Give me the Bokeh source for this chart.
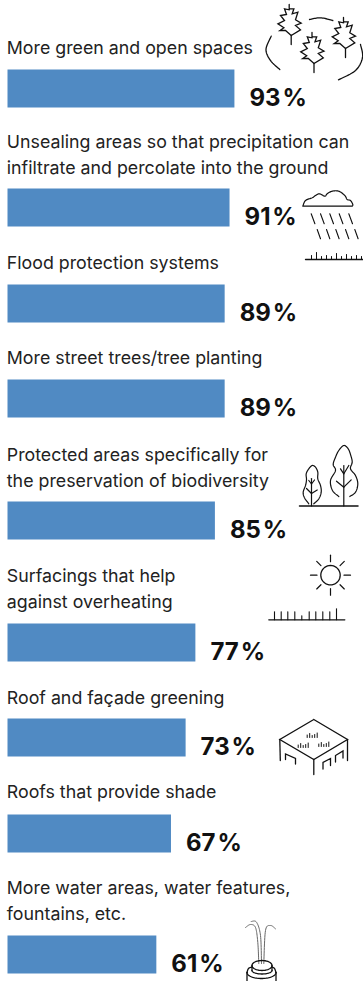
import numpy as np
from bokeh.core.properties import value
from bokeh.embed import file_html
from bokeh.models import Range1d
from bokeh.plotting import figure
from bokeh.resources import INLINE

# Survey results
categories = [
    ["More green and open spaces"],
    ["Unsealing areas so that precipitation can", "infiltrate and percolate into the ground"],
    ["Flood protection systems"],
    ["More street trees/tree planting"],
    ["Protected areas specifically for", "the preservation of biodiversity"],
    ["Surfacings that help", "against overheating"],
    ["Roof and façade greening"],
    ["Roofs that provide shade"],
    ["More water areas, water features,", "fountains, etc."],
]
shares = [93, 91, 89, 89, 85, 77, 73, 67, 61]

# Layout, in page pixels
W, H = 363, 981
LEFT = 7
PX_PER_POINT = 2.44
BAR_BOTTOMS = [107, 226, 322, 417, 539, 661, 756, 852, 973]
BAR_HEIGHT = 38
FIRST_BASELINES = [54, 148, 269, 364, 461, 582, 704, 798, 894]
LINE_STEP = 26
BAR_COLOR = "#508ac3"
TEXT_COLOR = "#222222"
INK = "#111111"
FONT = "Inter"

p = figure(
    width=W, height=H, output_backend="svg", toolbar_location=None,
    x_range=Range1d(-LEFT / PX_PER_POINT, (W - LEFT) / PX_PER_POINT),
    y_range=Range1d(H, 0), min_border=0, outline_line_color=None,
    background_fill_color="white", border_fill_color="white",
)
p.axis.visible = False
p.grid.visible = False
p.extra_x_ranges["px"] = Range1d(0, W)

# Bars
bar_bottom = np.array(BAR_BOTTOMS, dtype=float)
p.quad(left=0, right=shares, bottom=bar_bottom, top=bar_bottom - BAR_HEIGHT,
       fill_color=BAR_COLOR, line_color=None)

# Value labels
p.text(x=shares, y=bar_bottom, text=[f"{s}\u200a%" for s in shares], x_offset=15, y_offset=-10,
       text_font=value(FONT), text_font_style="bold", text_font_size="24px",
       text_baseline="alphabetic", text_color=INK)

# Category labels
xs, ys, labels = [], [], []
for lines, base in zip(categories, FIRST_BASELINES):
    for i, line in enumerate(lines):
        xs.append(LEFT - 0.7)
        ys.append(base + i * LINE_STEP)
        labels.append(line)
p.text(x=xs, y=ys, text=labels, x_range_name="px", y_offset=-7, text_font=value(FONT),
       text_font_size="17.8px", text_baseline="alphabetic", text_color=TEXT_COLOR)


def stroke(paths, width=1.2, color=INK):
    """Draw decorative polylines given as lists of (x, y) page pixels."""
    p.multi_line([[q[0] for q in path] for path in paths],
                 [[q[1] for q in path] for path in paths],
                 x_range_name="px", line_color=color, line_width=width,
                 line_cap="round", line_join="miter")


def smooth(points, n=12):
    """Catmull-Rom curve through the given points."""
    pts = [points[0]] + list(points) + [points[-1]]
    out = []
    for a, b, c, d in zip(pts, pts[1:], pts[2:], pts[3:]):
        for t in np.linspace(0, 1, n, endpoint=False):
            out.append(tuple(
                0.5 * (2 * b[k] + (c[k] - a[k]) * t
                       + (2 * a[k] - 5 * b[k] + 4 * c[k] - d[k]) * t ** 2
                       + (3 * b[k] - a[k] - 3 * c[k] + d[k]) * t ** 3)
                for k in (0, 1)))
    out.append(points[-1])
    return out


def ellipse(cx, cy, rx, ry, start=0.0, end=2 * np.pi):
    return [(cx + rx * np.cos(t), cy + ry * np.sin(t)) for t in np.linspace(start, end, 41)]


def shift(path, dx, dy):
    return [(x + dx, y + dy) for x, y in path]


# Toothed leaves and the arcs round them
LEAF = [(-2, 0), (-2, 5.3), (-6.7, 4.3), (-4.7, 10), (-10.7, 11), (-6.7, 16), (-13.3, 19.3),
        (-7.3, 23.3), (-11.3, 26), (-5.7, 26), (0, 31), (9.3, 25.3), (4.3, 21), (10, 18.7),
        (4.3, 15.3), (6.7, 7.7), (1, 9.3), (2.7, 4.3), (-1.3, 4.3)]
for cx, top in [(290.7, 4), (313.5, 32), (345, 17)]:
    stroke([shift(LEAF, cx, top), [(cx, top + 31), (cx, top + 40)]], 1.3)
stroke([smooth([(270.7, 35.7), (265.5, 49), (270, 60), (279.3, 69)]),
        smooth([(309, 19), (320, 17.3), (332.3, 20)]),
        smooth([(360, 44), (362, 57), (355, 70), (338, 79.3)])], 1.3)

# Rain cloud over the ground
cloud = [(302.3, 205.7), (305, 200), (311.7, 197.3), (315, 195), (319, 193.3), (324.3, 195.7),
         (326.7, 193.3), (331.7, 190.7), (338.3, 190.7), (344.3, 195), (346.7, 199), (350, 200),
         (352.3, 204), (351.7, 205.7)]
stroke([smooth(cloud) + [cloud[0]]], 1.2)
rain = [[(x, 213.3), (x + 3.7, 223.3)] for x in (310.7, 320, 329.3, 338.7, 348.3)]
rain += [[(x, 229), (x + 3.3, 238.3)] for x in (316.7, 326, 335.3, 345, 354.3)]
stroke(rain, 1.1)
stroke([[(305, 259), (363, 259)]], 1.3)
ticks = [(311, 4), (316, 7), (321, 3), (326, 4), (331, 3), (336, 6), (341, 3), (346, 5),
         (351, 3), (356, 4), (361, 3)]
stroke([[(x, 259), (x, 259 - h)] for x, h in ticks], 1.0)

# Two trees on the ground
stroke([[(299, 505.5), (357.5, 505.5)]], 1.5)
stroke([[(311, 505.5), (311, 478)], [(311, 493), (306, 488)], [(311, 493), (316.7, 489.5)],
        [(311, 483.5), (308.3, 480)], [(311, 483.5), (314, 479.5)],
        [(343.3, 505.5), (343.3, 465)], [(343.3, 486.7), (336, 480.7)],
        [(343.3, 486.7), (350.7, 479.3)], [(343.3, 473.3), (340, 468.3)],
        [(343.3, 473.3), (348.3, 465)]], 1.2)
stroke([smooth([(308.3, 503.3), (304, 497.3), (302.7, 491.7), (305, 485), (306, 479.3),
                (305.7, 473.3), (308.3, 468.3), (311.7, 465), (315, 466.7), (317.3, 471.7),
                (317.3, 478.3), (320, 485), (320.7, 491.7), (318.3, 498.3), (313.3, 503.3)]),
        smooth([(338.3, 496), (332, 490), (330, 480), (335, 470), (332.7, 464),
                (335, 456.7), (338.3, 450), (343.3, 445), (347.7, 448.3), (350.3, 455),
                (351.7, 461.7), (350, 468.3), (355, 475), (357.3, 483.3), (355, 491.7),
                (349.3, 496)])], 1.2)

# Sun over the ground
SUN_X, SUN_Y = 330, 574.7
stroke([ellipse(SUN_X, SUN_Y, 9.7, 9.7)], 1.3)
rays = []
for k in range(8):
    a = k * np.pi / 4
    r0, r1 = (13.5, 20) if k % 2 == 0 else (13.5, 19.5)
    rays.append([(SUN_X + r0 * np.cos(a), SUN_Y + r0 * np.sin(a)),
                 (SUN_X + r1 * np.cos(a), SUN_Y + r1 * np.sin(a))])
stroke(rays, 1.2)
stroke([[(268.3, 619.3), (344.3, 619.3)]], 1.3)
ticks = [(274, 8), (280.7, 8), (287.3, 8), (294.3, 8), (301.3, 4), (308.7, 8), (315.3, 8),
         (322.3, 8), (329.3, 8), (336, 11)]
stroke([[(x, 619.3), (x, 619.3 - h)] for x, h in ticks], 1.1)

# Building with a planted roof
stroke([[(313.3, 719), (347, 739), (313.3, 759), (279.3, 739), (313.3, 719)],
        [(279.3, 739), (279.8, 760)], [(347, 739), (347, 760)], [(313.3, 759), (313.3, 774)],
        [(285, 759), (285, 753.5), (295, 758), (295, 763.5)],
        [(322.5, 768.5), (322.5, 762), (330, 758), (330, 765)],
        [(335, 761.5), (335, 755), (342.5, 750.5), (342.5, 757.5)]], 1.3)
sprig = []
for cx, cy in [(311.7, 737), (302.7, 747), (323.3, 746)]:
    for dx, h in [(-5, 2.5), (-2.5, 4), (0, 2), (2.5, 3), (5, 4.5)]:
        sprig.append([(cx + dx, cy), (cx + dx, cy - h)])
stroke(sprig, 1.0)

# Fountain
stroke([smooth([(245, 927), (250, 924), (255, 927), (257.3, 942), (258.3, 963)]),
        smooth([(250.7, 921), (256, 921.7), (260, 935), (261, 963)]),
        smooth([(275, 928.3), (270, 925), (265, 930), (263.3, 963)])], 1.0, "#666666")
stroke([ellipse(261.5, 965, 10, 5),
        [(251.5, 965), (251.5, 970)], [(271.5, 965), (271.5, 970)],
        ellipse(261.5, 970, 10, 3.5, 0, np.pi),
        ellipse(261, 972, 14.5, 6, 0, np.pi),
        smooth([(251.5, 966.5), (248, 968), (246.5, 972)]),
        smooth([(271.5, 966.5), (274, 968), (275.5, 972)]),
        [(246.5, 972), (246.5, 981)], [(275.5, 972), (275.5, 981)]], 1.3)

open("out.html", "w").write(file_html(p, INLINE))
